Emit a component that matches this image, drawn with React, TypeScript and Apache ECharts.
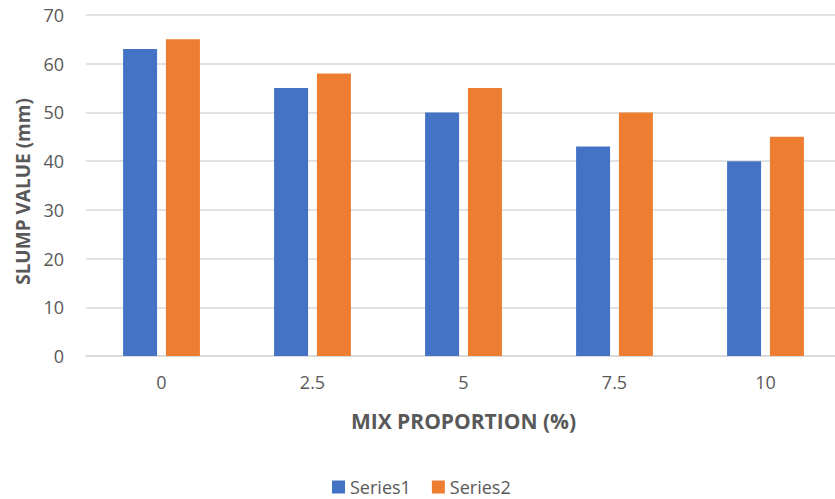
import React, { useEffect, useRef } from "react";
import * as echarts from "echarts";

const categories = ["0", "2.5", "5", "7.5", "10"];
const series1 = [63, 55, 50, 43, 40];
const series2 = [65, 58, 55, 50, 45];
const yTicks = { min: 0, max: 70, interval: 10 };

const FONT = "'Open Sans', 'Noto Sans', sans-serif";
const GREY = "#595959";

export default function App() {
  const ref = useRef<HTMLDivElement>(null);

  useEffect(() => {
    if (!ref.current) return;
    const chart = echarts.init(ref.current, null, { renderer: "svg" });
    chart.setOption({
      animation: false,
      backgroundColor: "#ffffff",
      textStyle: { fontFamily: FONT },
      // plot area runs slightly past the right edge of the visible frame
      grid: { left: 86, right: 0, top: 15, bottom: 143, containLabel: false },
      legend: {
        top: 478,
        left: 332,
        padding: 0,
        itemWidth: 13,
        itemHeight: 13,
        itemGap: 21,
        icon: "rect",
        textStyle: { color: GREY, fontSize: 18, lineHeight: 18, fontFamily: FONT },
        data: ["Series1", "Series2"],
      },
      xAxis: {
        type: "category",
        data: categories,
        name: "MIX PROPORTION (%)",
        nameLocation: "middle",
        nameGap: 54,
        nameTextStyle: { color: GREY, fontSize: 21, fontWeight: "bold", fontFamily: FONT },
        axisLine: { lineStyle: { color: "#d9d9d9", width: 1.5 } },
        axisTick: { show: false },
        axisLabel: { color: GREY, fontSize: 18, margin: 17, fontFamily: FONT },
      },
      yAxis: {
        type: "value",
        min: yTicks.min,
        max: yTicks.max,
        interval: yTicks.interval,
        name: "SLUMP VALUE (mm)",
        nameLocation: "middle",
        nameGap: 53,
        nameRotate: 90,
        nameTextStyle: {
          color: GREY,
          fontSize: 19,
          fontWeight: "bold",
          fontFamily: FONT,
          padding: [0, 12, 0, 0],
        },
        axisLine: { show: false },
        axisTick: { show: false },
        axisLabel: { color: GREY, fontSize: 18, margin: 22, fontFamily: FONT },
        splitLine: { lineStyle: { color: "#d9d9d9", width: 1.5 } },
      },
      series: [
        {
          name: "Series1",
          type: "bar",
          data: series1,
          barWidth: 34,
          barGap: "26%",
          itemStyle: { color: "#4472c4" },
        },
        {
          name: "Series2",
          type: "bar",
          data: series2,
          barWidth: 34,
          itemStyle: { color: "#ed7d31" },
        },
      ],
    });
    return () => chart.dispose();
  }, []);

  return (
    <div
      style={{
        width: 835,
        height: 499,
        position: "absolute",
        left: 0,
        top: 0,
        overflow: "hidden",
        background: "#ffffff",
      }}
    >
      <div ref={ref} style={{ width: 841, height: 499 }} />
    </div>
  );
}
